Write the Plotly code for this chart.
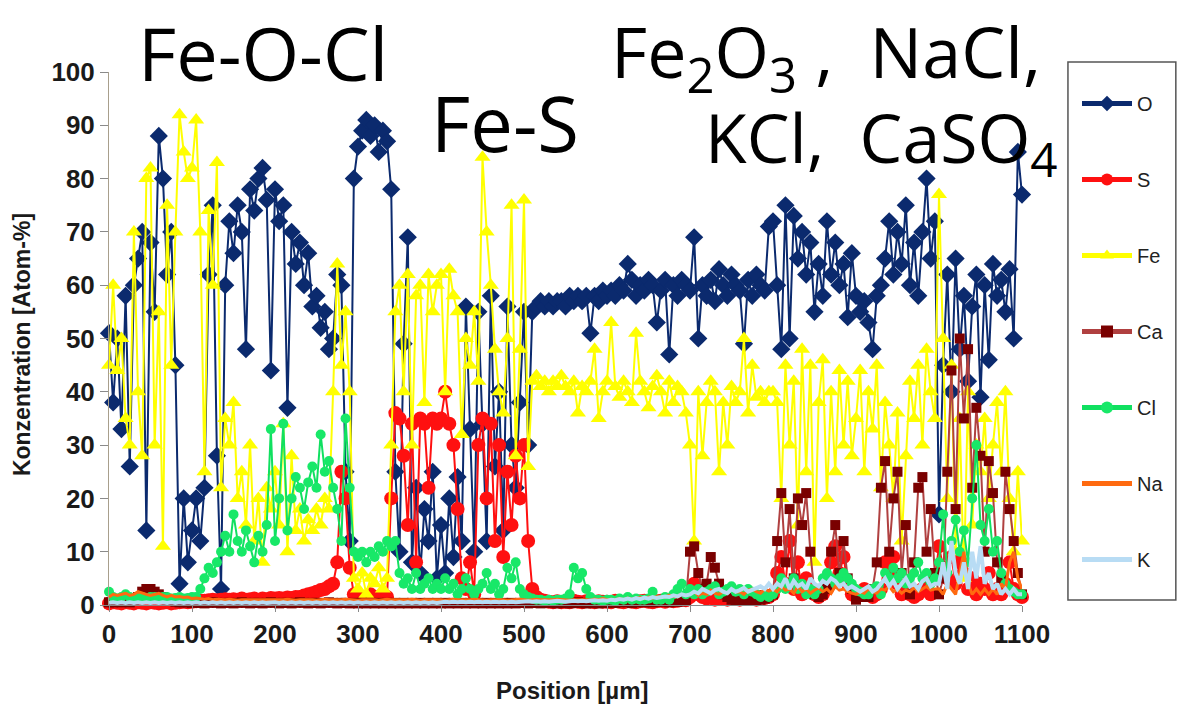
import plotly.graph_objects as go

# ---------------- data (5 µm steps) ----------------
position = list(range(0, 1101, 5))

O = [51, 38, 50, 33, 58, 26, 60, 65, 70, 14, 68, 55, 88, 80, 62, 70, 45, 4, 20, 8,
     14, 20, 12, 22, 62, 75, 28, 3, 60, 72, 66, 75, 70, 48, 78, 74, 80, 82, 76, 44,
     78, 72, 75, 37, 70, 64, 68, 60, 66, 56, 58, 52, 55, 48, 50, 62, 60, 25, 12, 80,
     86, 89, 91, 88, 90, 85, 89, 87, 78, 25, 10, 49, 69, 8, 22, 6, 18, 12, 25, 5,
     15, 6, 20, 9, 24, 12, 56, 33, 10, 55, 34, 12, 58, 26, 40, 14, 56, 30, 22, 38,
     55, 30, 55, 56, 57, 56, 57, 56, 57, 57, 56, 58, 57, 58, 57, 58, 51, 58, 57, 59,
     58, 59, 58, 60, 59, 64, 61, 58, 60, 59, 61, 60, 53, 59, 61, 47, 60, 58, 61, 60,
     59, 69, 50, 60, 58, 61, 57, 63, 60, 58, 62, 60, 59, 49, 61, 58, 62, 60, 59, 71,
     72, 60, 48, 75, 50, 73, 65, 70, 62, 68, 55, 64, 58, 72, 62, 68, 60, 64, 54, 66,
     58, 55, 57, 53, 48, 58, 60, 65, 72, 62, 70, 64, 75, 60, 68, 58, 70, 80, 65, 72,
     17, 45, 62, 40, 65, 48, 58, 42, 56, 62, 39, 60, 46, 64, 58, 61, 55, 63, 50, 85,
     77]

S = [0.3, 0.5, 0.4, 0.3, 0.5, 0.4, 0.3, 0.5, 0.4, 0.3, 0.5, 0.4, 0.3, 0.4, 0.5, 0.3, 0.4, 0.5, 0.6, 0.5,
     0.6, 0.7, 0.8, 0.8, 0.9, 1, 0.9, 1, 1.1, 1, 1.1, 1, 1.2, 1, 1.1, 1.2, 1, 1.2, 1.1, 1.3,
     1.2, 1.3, 1.2, 1.4, 1.3, 1.5, 1.5, 1.8, 2, 2.2, 2.5, 2.8, 3, 3.5, 4, 8, 25, 20, 7, 2,
     1, 1.5, 1, 2, 1.5, 1, 2, 1.5, 20, 36, 35, 28, 15, 34, 8, 35, 34, 22, 35, 34,
     35, 40, 34, 30, 18, 5, 3, 8, 2, 30, 35, 20, 34, 12, 30, 9, 25, 15, 28, 20,
     30, 12, 3, 1.5, 1, 0.8, 0.6, 0.5, 0.7, 0.5, 0.6, 0.5, 0.8, 0.6, 0.5, 0.7, 0.6, 0.5, 0.7, 0.6,
     0.6, 0.5, 0.8, 0.6, 0.5, 0.7, 0.6, 0.5, 0.7, 0.8, 0.6, 0.5, 0.7, 0.8, 0.6, 0.9, 0.7, 0.8, 1, 0.9,
     1.5, 4, 2, 1.5, 1.2, 1.5, 1, 1.3, 1.2, 1, 1.5, 1.2, 1, 1.3, 1.5, 1.2, 1, 1.5, 1.3, 1.5,
     2, 6, 9, 4, 12, 3, 8, 2, 5, 3, 2, 1.5, 2, 3, 8, 11, 6, 9, 4, 2,
     1.5, 2, 3, 2, 1.5, 2, 3, 8, 6, 9, 4, 2, 3, 2, 1.5, 2, 3, 4, 2, 5,
     11, 7, 5, 9, 4, 8, 6, 3, 5, 2, 4, 3, 6, 2, 3, 2, 4, 8, 3, 2,
     1.5]

Fe = [45, 60, 44, 50, 35, 30, 70, 40, 28, 80, 82, 30, 55, 11, 75, 45, 70, 92, 85, 80,
      82, 91, 70, 25, 74, 60, 83, 22, 35, 30, 38, 20, 25, 15, 30, 12, 20, 8, 22, 18,
      25, 15, 34, 10, 28, 14, 18, 12, 16, 14, 18, 15, 20, 18, 40, 64, 45, 55, 40, 5,
      3, 6, 2, 5, 4, 7, 3, 5, 30, 55, 60, 40, 62, 30, 58, 60, 38, 62, 55, 60,
      62, 40, 63, 58, 55, 32, 50, 45, 55, 42, 84, 70, 60, 48, 40, 36, 50, 75, 28, 48,
      76, 26, 42, 43, 41, 42, 40, 42, 41, 43, 41, 40, 42, 36, 41, 40, 42, 48, 35, 40,
      42, 53, 41, 39, 42, 40, 38, 51, 42, 40, 37, 41, 43, 40, 36, 42, 38, 41, 40, 36,
      30, 12, 40, 28, 38, 42, 40, 25, 38, 30, 41, 38, 40, 50, 36, 45, 39, 40, 38, 40,
      40, 38, 20, 45, 30, 42, 15, 48, 25, 45, 8, 38, 46, 20, 40, 25, 44, 30, 42, 28,
      35, 44, 25, 40, 33, 45, 22, 38, 30, 20, 36, 12, 28, 42, 35, 45, 30, 48, 40, 35,
      77, 50, 20, 45, 10, 35, 5, 40, 15, 30, 25, 35, 20, 30, 38, 25, 40, 20, 10, 25,
      12]

Ca = [0.5, 0.5, 0.6, 0.5, 0.6, 0.5, 0.8, 1.5, 2.5, 3, 3, 2.5, 2, 1.5, 1, 0.8, 0.6, 0.5, 0.5, 0.5,
      0.4, 0.5, 0.4, 0.3, 0.4, 0.5, 0.4, 0.3, 0.4, 0.4, 0.3, 0.4, 0.5, 0.4, 0.3, 0.4, 0.4, 0.3, 0.4, 0.5,
      0.4, 0.3, 0.4, 0.4, 0.3, 0.4, 0.5, 0.4, 0.3, 0.4, 0.4, 0.3, 0.4, 0.5, 0.4, 0.3, 0.4, 0.4, 0.3, 0.4,
      0.3, 0.4, 0.3, 0.4, 0.3, 0.4, 0.3, 0.4, 0.3, 0.4, 0.3, 0.4, 0.3, 0.4, 0.3, 0.4, 0.3, 0.4, 0.3, 0.4,
      0.3, 0.4, 0.3, 0.4, 0.3, 0.4, 0.3, 0.4, 0.3, 0.4, 0.3, 0.4, 0.3, 0.4, 0.3, 0.4, 0.3, 0.4, 0.3, 0.4,
      0.4, 0.3, 0.4, 0.4, 0.3, 0.4, 0.5, 0.4, 0.3, 0.4, 0.4, 0.3, 0.4, 0.5, 0.4, 0.3, 0.4, 0.4, 0.3, 0.4,
      0.4, 0.5, 0.4, 0.5, 0.6, 0.5, 0.4, 0.5, 0.6, 0.5, 0.6, 0.5, 0.6, 0.7, 0.6, 0.5, 0.8, 0.6, 0.7, 0.8,
      10, 11, 6, 3, 4, 9, 7, 4, 2, 1.5, 1, 0.8, 0.8, 1, 0.8, 1, 0.8, 1, 1.2, 1.5,
      2, 12, 21, 8, 18, 5, 20, 15, 21, 10, 2, 1.5, 2, 3, 10, 15, 6, 12, 5, 3,
      1, 1.5, 2, 1.5, 3, 8, 22, 27, 10, 20, 25, 6, 15, 2, 8, 22, 24, 10, 18, 6,
      2, 5, 25, 44, 18, 50, 35, 48, 22, 37, 28, 10, 27, 21, 8, 5, 25, 18, 12, 6,
      2]

Cl = [2.5, 1.5, 1.2, 1.5, 2, 1.5, 1.2, 1.5, 1.5, 1.2, 1.5, 1.5, 1.2, 1.5, 1.5, 1.2, 1.3, 1.5, 1.2, 1.3,
      1.5, 1.5, 3, 5, 7, 6, 8, 10, 13, 10, 17, 12, 10, 14, 11, 8, 13, 10, 15, 33,
      12, 20, 34, 14, 20, 24, 22, 18, 23, 26, 22, 32, 25, 27, 22, 18, 12, 35, 22, 10,
      9, 10, 8, 10, 9, 11, 10, 12, 11, 12, 6, 4, 5, 3, 6, 3, 4, 5, 3, 4,
      3, 5, 3, 4, 2, 3, 5, 3, 2, 3, 4, 6, 3, 4, 2, 3, 7, 5, 8, 3,
      2, 1.5, 1.2, 1, 1, 0.8, 1, 0.8, 1, 1, 1.2, 2, 7, 5, 6, 3, 1.5, 1, 1, 0.8,
      1, 1, 0.8, 1.2, 1, 1.5, 1, 1.2, 1, 1, 1.2, 2.5, 1, 1, 1.5, 1, 2, 3, 4, 2,
      3, 2, 3, 2, 2.5, 3, 3.5, 2, 2.5, 3, 3.5, 2.5, 3, 2, 3, 2.5, 2, 1.5, 2, 1.5,
      2, 3, 5, 3, 4, 5, 3, 4, 2, 3, 2, 3, 5, 6, 5, 4, 5, 6, 5, 4,
      3, 2.5, 2, 2, 3, 3.5, 2, 6, 5, 7, 5, 6, 4, 5, 6, 8, 5, 6, 4, 5,
      8, 17, 6, 12, 16, 10, 14, 8, 20, 30, 15, 12, 18, 10, 12, 6, 4, 3, 2.5, 2,
      2]

Na = [1.5, 2, 1.8, 2, 2.2, 1.8, 2, 2.5, 2.2, 2, 1.8, 2, 2.2, 1.8, 1.5, 1.8, 1.5, 1.6, 1.4, 1.5,
      1.2, 1.3, 1.2, 1.1, 1.2, 1, 1.1, 1, 1, 1.1, 1, 0.9, 1, 1, 0.9, 1, 1, 0.9, 1, 1,
      1, 0.9, 1, 1.1, 1, 0.9, 1, 1, 1.1, 1, 0.9, 1, 1.1, 1, 1, 0.9, 1, 1.1, 1, 1,
      0.9, 1, 1, 1.1, 1, 0.9, 1, 1.1, 1, 1, 0.9, 1, 1, 1.1, 1, 0.9, 1, 1, 1.1, 1,
      1, 0.9, 1, 1.1, 1, 1, 0.9, 1, 1.1, 1, 1, 0.9, 1, 1, 1.1, 1, 0.9, 1, 1, 1.1,
      1, 0.9, 1, 1.1, 1, 1, 0.9, 1, 1.1, 1, 1, 0.9, 1, 1, 1.1, 1, 0.9, 1.1, 1, 1.2,
      1, 1.1, 1, 1.2, 1, 1.3, 1.1, 1.2, 1.4, 1.2, 1.5, 1.3, 1.6, 1.4, 1.5, 1.8, 1.6, 1.5, 2, 1.8,
      2, 2.5, 1.8, 2.2, 2, 2.8, 2.2, 2, 2.5, 2.2, 3, 2.4, 2.5, 2, 2.8, 3, 2.5, 2.2, 3, 2.6,
      3, 2.5, 3.5, 2.8, 3, 2.2, 3.5, 2.5, 3, 2.2, 2.8, 3.2, 2.5, 3, 2.2, 3.5, 2.8, 3, 2.5, 2.2,
      2, 2.5, 2.2, 3, 2.5, 2.2, 3, 2.8, 3.5, 2.5, 3, 2.2, 2.8, 2.5, 3.2, 2.5, 3, 3.5, 2.8, 3,
      3, 2, 4, 3, 2, 6, 10, 4, 2, 3, 2, 3, 2, 3, 2, 4, 3, 8, 10, 5,
      3]

K = [0.4, 0.5, 0.4, 0.5, 0.4, 0.5, 0.4, 0.5, 0.4, 0.5, 0.4, 0.5, 0.4, 0.5, 0.4, 0.5, 0.4, 0.5, 0.4, 0.5,
     0.4, 0.5, 0.4, 0.5, 0.4, 0.5, 0.4, 0.5, 0.4, 0.5, 0.4, 0.5, 0.4, 0.5, 0.4, 0.5, 0.4, 0.5, 0.4, 0.5,
     0.5, 0.4, 0.5, 0.4, 0.5, 0.4, 0.5, 0.4, 0.5, 0.4, 0.5, 0.4, 0.5, 0.4, 0.5, 0.4, 0.5, 0.4, 0.5, 0.4,
     0.5, 0.4, 0.5, 0.4, 0.5, 0.4, 0.5, 0.4, 0.5, 0.4, 0.5, 0.4, 0.5, 0.4, 0.5, 0.4, 0.5, 0.4, 0.5, 0.4,
     0.5, 0.6, 0.5, 0.6, 0.5, 0.6, 0.5, 0.6, 0.5, 0.6, 0.5, 0.6, 0.5, 0.6, 0.5, 0.6, 0.5, 0.6, 0.5, 0.6,
     0.6, 0.7, 0.6, 0.7, 0.6, 0.7, 0.6, 0.7, 0.8, 0.7, 0.6, 0.7, 0.8, 0.7, 0.8, 0.7, 0.8, 0.9, 0.8, 0.9,
     0.8, 1, 0.9, 1.1, 1, 1.2, 1, 1.3, 1.1, 1.4, 1.2, 1.5, 1.3, 1.4, 1.6, 1.5, 1.8, 1.6, 2, 1.8,
     2, 2.5, 2.2, 3, 2.5, 2.2, 2.8, 3, 2.5, 2.2, 3, 2.5, 2.8, 3.2, 2.5, 2.8, 3, 3.5, 3, 4,
     3, 4, 3.5, 5, 3, 4.5, 3.5, 4, 3, 5, 4, 3.5, 4.5, 4, 5, 4.5, 3.5, 4, 3, 3.5,
     3, 2.5, 3, 3.5, 2.5, 3, 4, 5, 3.5, 4.5, 3, 4, 5, 3.5, 4, 3, 4.5, 5, 3.5, 4,
     4, 8, 3, 12, 6, 4, 8, 3, 10, 5, 11, 4, 6, 3, 4, 2, 3, 2, 3, 2,
     2]

x_ticks = list(range(0, 1101, 100))
y_ticks = list(range(0, 101, 10))

# ---------------- figure ----------------
W, H = 1180, 704
L, R, T, B = 109, 1023, 72, 605   # plot area in pixels


def px_x(p):
    return (p - L) / (R - L)


def px_y(p):
    return (B - p) / (B - T)


series = [
    ("O", O, dict(color="#0B2A6E", width=2), dict(symbol="diamond", size=14, color="#0B2A6E")),
    ("S", S, dict(color="#FF1010", width=2), dict(symbol="circle", size=14, color="#FF1010")),
    ("Fe", Fe, dict(color="#FFFF00", width=2), dict(symbol="triangle-up", size=14, color="#FFFF00")),
    ("Ca", Ca, dict(color="#B04040", width=2), dict(symbol="square", size=10, color="#7A0000")),
    ("Cl", Cl, dict(color="#10E060", width=2), dict(symbol="circle", size=10, color="#18E868")),
    ("Na", Na, dict(color="#FF6A10", width=3), None),
    ("K", K, dict(color="#B8DCF4", width=4), None),
]

fig = go.Figure()
for name, vals, line, marker in series:
    kw = dict(x=position, y=vals, name=name, line=line, legendgroup=name,
              cliponaxis=False)
    if marker is None:
        kw["mode"] = "lines"
    else:
        kw["mode"] = "lines+markers"
        kw["marker"] = marker
    fig.add_trace(go.Scatter(**kw))

axis_font = dict(family="Liberation Sans, Arial", size=26, color="#1a1a1a", weight="bold")

fig.update_layout(
    width=W, height=H,
    margin=dict(l=L, r=W - R, t=T, b=H - B, pad=0),
    paper_bgcolor="white", plot_bgcolor="white",
    showlegend=True,
    legend=dict(x=px_x(1077), y=px_y(84), xanchor="left", yanchor="top",
                font=dict(family="Liberation Sans, Arial", size=20, color="#222"),
                bgcolor="rgba(0,0,0,0)", borderwidth=0,
                tracegroupgap=47, itemsizing="constant", itemwidth=50),
    xaxis=dict(range=[0, 1100], tickmode="array", tickvals=x_ticks,
               ticktext=[str(v) for v in x_ticks],
               showgrid=False, zeroline=False, showline=True, linecolor="#8a8a8a",
               linewidth=1, ticks="outside", ticklen=6, tickcolor="#8a8a8a",
               tickfont=axis_font),
    yaxis=dict(range=[0, 100], tickmode="array", tickvals=y_ticks,
               ticktext=[str(v) for v in y_ticks],
               showgrid=False, zeroline=False, showline=True, linecolor="#a89f8c",
               linewidth=1, ticks="outside", ticklen=8, tickcolor="#8a8a8a",
               tickfont=axis_font),
)

# legend frame
fig.add_shape(type="rect", xref="paper", yref="paper",
              x0=px_x(1069), x1=px_x(1177), y0=px_y(600), y1=px_y(62),
              line=dict(color="#555555", width=1.5), fillcolor="rgba(0,0,0,0)")

# axis titles
fig.add_annotation(text="Konzentration [Atom-%]", xref="paper", yref="paper",
                   x=px_x(22), y=px_y(345), xanchor="center", yanchor="middle",
                   textangle=-90, showarrow=False,
                   font=dict(family="Liberation Sans, Arial", size=23, color="#1a1a1a",
                             weight="bold"))
fig.add_annotation(text="Position [µm]", xref="paper", yref="paper",
                   x=px_x(573), y=px_y(690), xanchor="center", yanchor="middle",
                   showarrow=False,
                   font=dict(family="Liberation Sans, Arial", size=24, color="#1a1a1a",
                             weight="bold"))

# phase labels
fig.add_annotation(text="Fe-O-Cl", xref="paper", yref="paper", x=px_x(136), y=px_y(52),
                   xanchor="left", yanchor="middle", showarrow=False,
                   font=dict(family="Open Sans", size=74, color="black"))
fig.add_annotation(text="Fe-S", xref="paper", yref="paper", x=px_x(429), y=px_y(122),
                   xanchor="left", yanchor="middle", showarrow=False,
                   font=dict(family="Open Sans", size=76, color="black"))
fig.add_annotation(text="Fe<sub>2</sub>O<sub>3</sub> ,  NaCl,", xref="paper", yref="paper",
                   x=px_x(610), y=px_y(55), xanchor="left", yanchor="middle",
                   showarrow=False, font=dict(family="Open Sans", size=70, color="black"))
fig.add_annotation(text="KCl,  CaSO<sub>4</sub>", xref="paper", yref="paper",
                   x=px_x(704), y=px_y(140), xanchor="left", yanchor="middle",
                   showarrow=False, font=dict(family="Open Sans", size=68, color="black"))

fig.write_html("out.html")
